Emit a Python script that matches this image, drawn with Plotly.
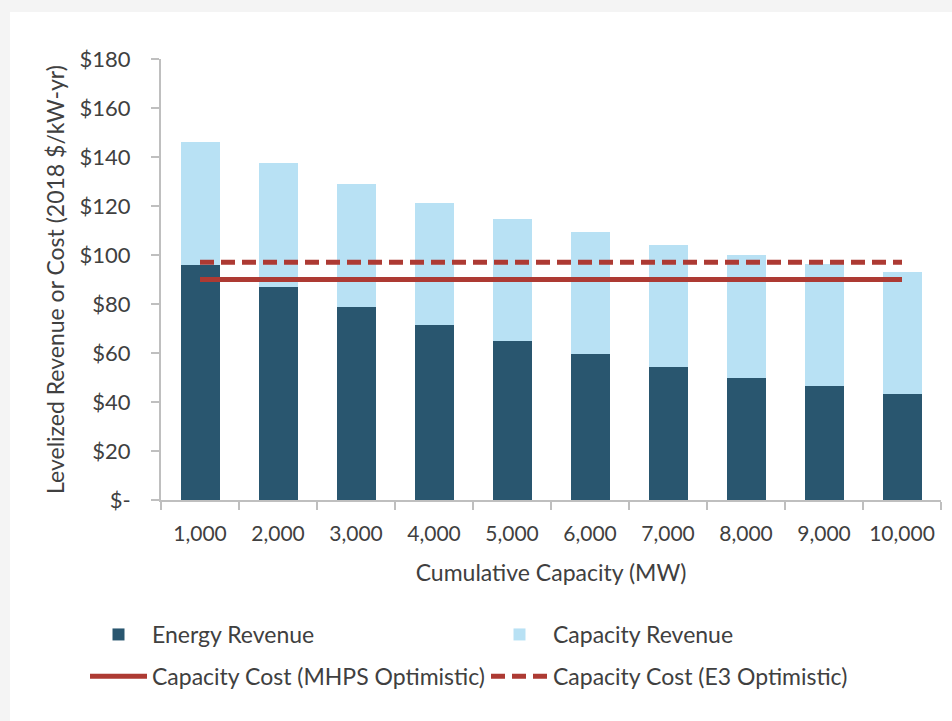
import plotly.graph_objects as go

categories = ["1,000", "2,000", "3,000", "4,000", "5,000", "6,000", "7,000", "8,000", "9,000", "10,000"]
energy_revenue = [96, 87, 78.6, 71.4, 65, 59.5, 54.4, 49.9, 46.5, 43.3]
capacity_revenue = [50, 50.4, 50.4, 50, 49.7, 49.8, 49.8, 50, 49.7, 49.9]
cost_mhps = [90] * 10
cost_e3 = [97] * 10
ytick_vals = [0, 20, 40, 60, 80, 100, 120, 140, 160, 180]
ytick_text = ["$-", "$20", "$40", "$60", "$80", "$100", "$120", "$140", "$160", "$180"]

DARK = "#29566f"
LIGHT = "#b8e1f4"
RED = "#ad3a33"
TXT = "#404040"
FONT = "Lato"

fig = go.Figure()
fig.add_trace(go.Bar(x=categories, y=energy_revenue, name="Energy Revenue",
                     marker=dict(color=DARK, line=dict(width=0)), width=0.5,
                     legend="legend", legendgroup="a"))
fig.add_trace(go.Bar(x=categories, y=capacity_revenue, name="Capacity Revenue",
                     marker=dict(color=LIGHT, line=dict(width=0)), width=0.5,
                     legend="legend2", legendgroup="c"))
fig.add_trace(go.Scatter(x=categories, y=cost_mhps, name="Capacity Cost (MHPS Optimistic)",
                         mode="lines", line=dict(color=RED, width=5),
                         legend="legend", legendgroup="b"))
fig.add_trace(go.Scatter(x=categories, y=cost_e3, name="Capacity Cost (E3 Optimistic)",
                         mode="lines", line=dict(color=RED, width=5, dash="14px,7px"),
                         legend="legend2", legendgroup="d"))

L, R, T, B = 161, 11, 59, 221
W, H = 952, 721
pw, ph = W - L - R, H - T - B

def px(x):
    return (x - L) / pw

def py(y):
    return (H - B - y) / ph

leg_common = dict(orientation="v", yanchor="top", bgcolor="rgba(0,0,0,0)",
                  font=dict(size=23, color=TXT, family=FONT), traceorder="grouped",
                  tracegroupgap=9, itemwidth=57)

fig.update_layout(
    width=W, height=H,
    margin=dict(l=L, r=R, t=T, b=B, autoexpand=False),
    barmode="stack",
    paper_bgcolor="#f4f4f4",
    plot_bgcolor="white",
    font=dict(family=FONT, size=22, color=TXT),
    shapes=[dict(type="rect", xref="paper", yref="paper", layer="below",
                 x0=px(10), x1=px(W + 5), y0=py(H + 5), y1=py(12),
                 fillcolor="white", line=dict(width=0))],
    xaxis=dict(
        type="category", automargin=False,
        showline=True, linecolor="#bfbfbf", linewidth=2,
        ticks="outside", tickson="boundaries", ticklen=8, tickcolor="#bfbfbf", tickwidth=2,
        tickfont=dict(size=21, color=TXT, family=FONT), tickangle=0,
        ticklabelstandoff=14,
        title=dict(text="Cumulative Capacity (MW)", font=dict(size=23, color=TXT, family=FONT), standoff=21),
        range=[-0.5, 9.5], showgrid=False,
    ),
    yaxis=dict(
        range=[0, 180], automargin=False,
        tickvals=ytick_vals, ticktext=ytick_text,
        showline=True, linecolor="#bfbfbf", linewidth=2,
        ticks="outside", ticklen=8, tickcolor="#bfbfbf", tickwidth=2,
        tickfont=dict(size=22, color=TXT, family=FONT),
        ticklabelstandoff=16,
        title=dict(text="Levelized Revenue or Cost (2018 $/kW-yr)", font=dict(size=23, color=TXT, family=FONT), standoff=9),
        showgrid=False, zeroline=False,
    ),
    legend=dict(x=px(85), xanchor="left", y=py(613), **leg_common),
    legend2=dict(x=px(486), xanchor="left", y=py(613), **leg_common),
)

fig.write_html("out.html", config={"displayModeBar": False},
               post_script="document.body.style.margin='0';")
